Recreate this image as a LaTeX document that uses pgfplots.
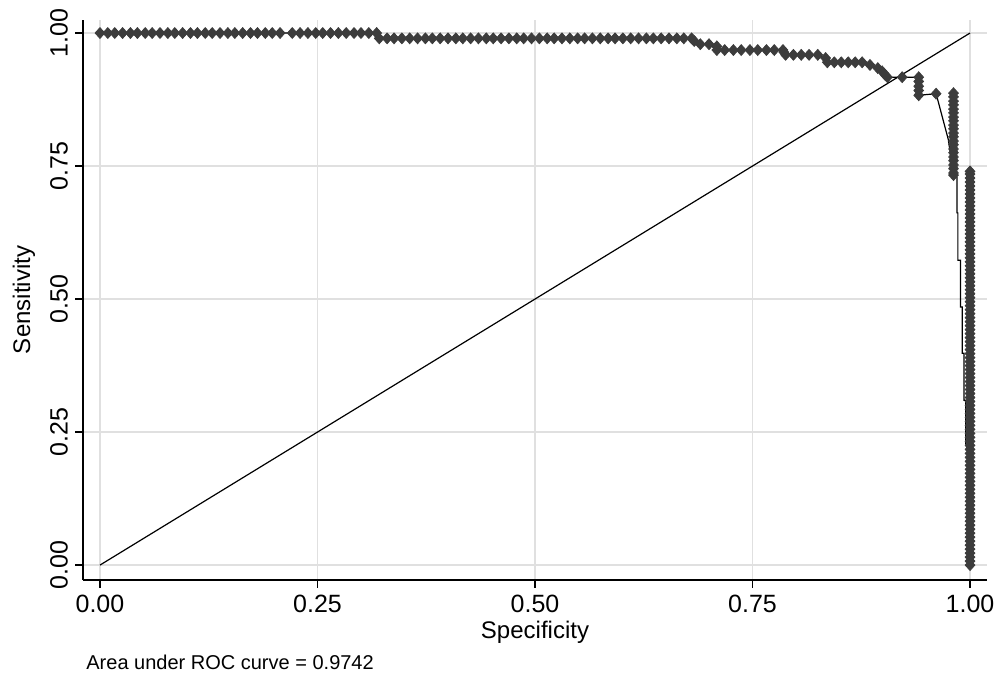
\documentclass[border=0pt]{standalone}
\usepackage{pgfplots}
\pgfplotsset{compat=1.18}
\usepackage{pgfplotstable}
\usepackage{fontspec}
\setmainfont{Liberation Sans}
\definecolor{markgray}{HTML}{3C3C3C}
\definecolor{gridgray}{HTML}{E0E0E0}

\pgfplotstableread{
x y
0.000 1.000
0.318 1.000
0.321 0.990
0.680 0.990
0.690 0.979
0.700 0.979
0.709 0.968
0.785 0.968
0.788 0.959
0.825 0.959
0.836 0.950
0.836 0.945
0.876 0.945
0.885 0.940
0.894 0.934
0.899 0.928
0.902 0.922
0.905 0.917
0.941 0.917
0.941 0.883
0.961 0.886
0.975 0.800
0.981 0.735
0.985 0.729
0.985 0.662
0.986 0.662
0.986 0.573
0.989 0.573
0.989 0.485
0.991 0.485
0.991 0.398
0.993 0.398
0.993 0.310
0.995 0.310
0.995 0.229
1.000 0.200
1.000 0.000
}\curvedata

\pgfplotstableread{
x y
0.000 1.000
0.009 1.000
0.017 1.000
0.026 1.000
0.035 1.000
0.043 1.000
0.052 1.000
0.060 1.000
0.069 1.000
0.078 1.000
0.086 1.000
0.095 1.000
0.104 1.000
0.112 1.000
0.121 1.000
0.129 1.000
0.138 1.000
0.147 1.000
0.155 1.000
0.164 1.000
0.173 1.000
0.181 1.000
0.190 1.000
0.198 1.000
0.207 1.000
0.221 1.000
0.230 1.000
0.239 1.000
0.248 1.000
0.256 1.000
0.265 1.000
0.274 1.000
0.283 1.000
0.292 1.000
0.300 1.000
0.309 1.000
0.318 1.000
0.321 0.990
0.330 0.990
0.338 0.990
0.347 0.990
0.356 0.990
0.365 0.990
0.374 0.990
0.382 0.990
0.391 0.990
0.400 0.990
0.409 0.990
0.417 0.990
0.426 0.990
0.435 0.990
0.444 0.990
0.452 0.990
0.461 0.990
0.470 0.990
0.479 0.990
0.487 0.990
0.496 0.990
0.505 0.990
0.514 0.990
0.522 0.990
0.531 0.990
0.540 0.990
0.549 0.990
0.557 0.990
0.566 0.990
0.575 0.990
0.584 0.990
0.592 0.990
0.601 0.990
0.610 0.990
0.619 0.990
0.628 0.990
0.636 0.990
0.645 0.990
0.654 0.990
0.663 0.990
0.671 0.990
0.680 0.990
0.683 0.985
0.690 0.979
0.700 0.979
0.709 0.975
0.709 0.968
0.718 0.968
0.728 0.968
0.737 0.968
0.747 0.968
0.756 0.968
0.766 0.968
0.775 0.968
0.785 0.968
0.786 0.964
0.788 0.959
0.797 0.959
0.806 0.959
0.815 0.959
0.825 0.959
0.834 0.953
0.836 0.945
0.844 0.945
0.852 0.945
0.860 0.945
0.868 0.945
0.876 0.945
0.885 0.940
0.894 0.934
0.899 0.928
0.902 0.922
0.905 0.917
0.922 0.917
0.941 0.917
0.941 0.909
0.941 0.900
0.941 0.892
0.941 0.883
0.961 0.886
0.981 0.887
0.981 0.880
0.981 0.872
0.981 0.865
0.981 0.857
0.981 0.850
0.981 0.842
0.981 0.835
0.981 0.827
0.981 0.820
0.981 0.812
0.981 0.805
0.981 0.797
0.981 0.790
0.981 0.782
0.981 0.775
0.981 0.767
0.981 0.760
0.981 0.752
0.981 0.745
0.981 0.737
0.981 0.733
1.000 0.000
1.000 0.0075
1.000 0.015
1.000 0.0225
1.000 0.030
1.000 0.0375
1.000 0.045
1.000 0.0525
1.000 0.060
1.000 0.0675
1.000 0.075
1.000 0.0825
1.000 0.090
1.000 0.0975
1.000 0.105
1.000 0.1125
1.000 0.120
1.000 0.1275
1.000 0.135
1.000 0.1425
1.000 0.150
1.000 0.1575
1.000 0.165
1.000 0.1725
1.000 0.180
1.000 0.1875
1.000 0.195
1.000 0.2025
1.000 0.210
1.000 0.2175
1.000 0.225
1.000 0.2325
1.000 0.240
1.000 0.2475
1.000 0.255
1.000 0.2625
1.000 0.270
1.000 0.2775
1.000 0.285
1.000 0.2925
1.000 0.300
1.000 0.3075
1.000 0.315
1.000 0.3225
1.000 0.330
1.000 0.3375
1.000 0.345
1.000 0.3525
1.000 0.360
1.000 0.3675
1.000 0.375
1.000 0.3825
1.000 0.390
1.000 0.3975
1.000 0.405
1.000 0.4125
1.000 0.420
1.000 0.4275
1.000 0.435
1.000 0.4425
1.000 0.450
1.000 0.4575
1.000 0.465
1.000 0.4725
1.000 0.480
1.000 0.4875
1.000 0.495
1.000 0.5025
1.000 0.510
1.000 0.5175
1.000 0.525
1.000 0.5325
1.000 0.540
1.000 0.5475
1.000 0.555
1.000 0.5625
1.000 0.570
1.000 0.5775
1.000 0.585
1.000 0.5925
1.000 0.600
1.000 0.6075
1.000 0.615
1.000 0.6225
1.000 0.630
1.000 0.6375
1.000 0.645
1.000 0.6525
1.000 0.660
1.000 0.6675
1.000 0.675
1.000 0.6825
1.000 0.690
1.000 0.6975
1.000 0.705
1.000 0.7125
1.000 0.720
1.000 0.7275
1.000 0.735
1.000 0.740
}\markdata

\begin{document}
\begin{tikzpicture}
\begin{axis}[
  at={(0,0)}, anchor=south west,
  scale only axis,
  width=452pt, height=280pt,
  xmin=-0.0195, xmax=1.0195,
  ymin=-0.028, ymax=1.0245,
  axis lines*=left,
  axis line style={-, line width=0.8pt, black},
  tick align=outside,
  major tick length=4pt,
  tick style={line width=0.8pt, black},
  xtick={0,0.25,0.5,0.75,1},
  ytick={0,0.25,0.5,0.75,1},
  xticklabels={0.00,0.25,0.50,0.75,1.00},
  yticklabels={0.00,0.25,0.50,0.75,1.00},
  ticklabel style={font=\fontsize{12.5}{14}\selectfont},
  yticklabel style={rotate=90, anchor=south},
  grid=major,
  grid style={gridgray, line width=0.6pt},
  xlabel={Specificity},
  ylabel={Sensitivity},
  label style={font=\fontsize{12}{14}\selectfont},
  xlabel style={at={(axis description cs:0.5,-0.1036)}, anchor=base},
  ylabel style={at={(axis description cs:-0.0586,0.5)}, anchor=base, rotate=0},
  clip=false,
]
\addplot[black, line width=0.6pt] coordinates {(0,0) (1,1)};
\addplot[black, line width=0.6pt] table {\curvedata};
\addplot[only marks, mark=diamond*, mark size=2.7pt, draw=markgray, fill=markgray, mark options={xscale=1.2}] table {\markdata};
\end{axis}
\node[anchor=base west, inner sep=0pt, font=\fontsize{10}{12}\selectfont] at (1.5pt,-45pt) {Area under ROC curve = 0.9742};
\pgfresetboundingbox
\path (-41.5pt,-46.5pt) rectangle (462pt,290pt);
\end{tikzpicture}
\end{document}
